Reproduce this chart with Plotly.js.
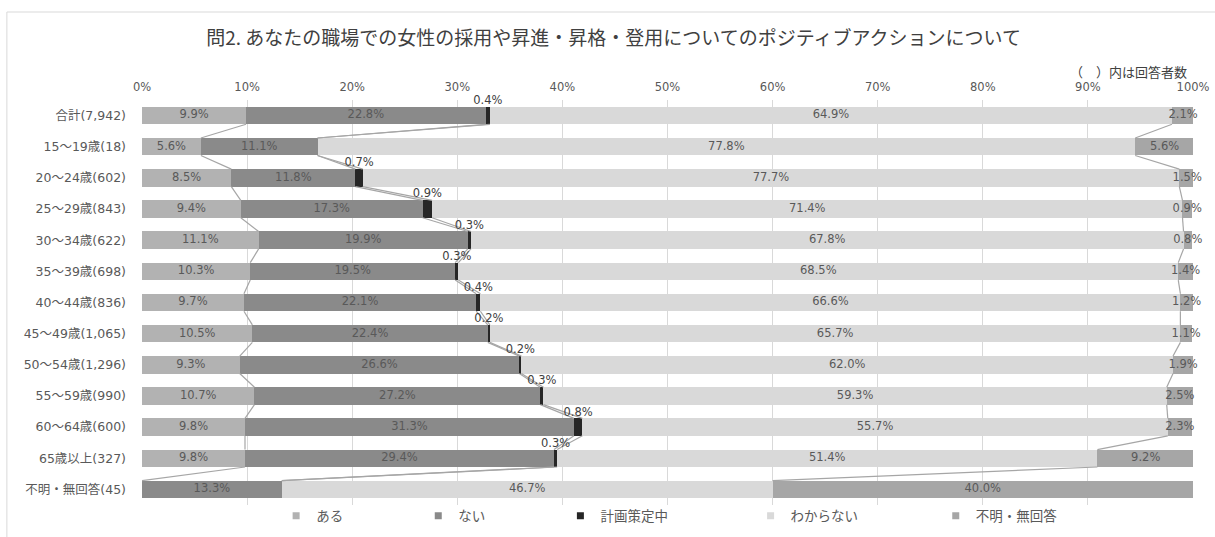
<!DOCTYPE html>
<html>
<head>
<meta charset="utf-8">
<script src="https://cdn.plot.ly/plotly-3.0.1.min.js"></script>
<style>html,body{margin:0;padding:0;background:#fff;}#chart{width:1215px;height:537px;}</style>
</head>
<body>
<div id="chart"></div>
<script>
const categories = ['合計(7,942)','15～19歳(18)','20～24歳(602)','25～29歳(843)','30～34歳(622)','35～39歳(698)','40～44歳(836)','45～49歳(1,065)','50～54歳(1,296)','55～59歳(990)','60～64歳(600)','65歳以上(327)','不明・無回答(45)'];
const seriesNames = ['ある','ない','計画策定中','わからない','不明・無回答'];
const aru      = [9.9, 5.6, 8.5, 9.4, 11.1, 10.3, 9.7, 10.5, 9.3, 10.7, 9.8, 9.8, 0];
const nai      = [22.8, 11.1, 11.8, 17.3, 19.9, 19.5, 22.1, 22.4, 26.6, 27.2, 31.3, 29.4, 13.3];
const keikaku  = [0.4, 0, 0.7, 0.9, 0.3, 0.3, 0.4, 0.2, 0.2, 0.3, 0.8, 0.3, 0];
const wakaranai= [64.9, 77.8, 77.7, 71.4, 67.8, 68.5, 66.6, 65.7, 62.0, 59.3, 55.7, 51.4, 46.7];
const fumei    = [2.1, 5.6, 1.5, 0.9, 0.8, 1.4, 1.2, 1.1, 1.9, 2.5, 2.3, 9.2, 40.0];
const xTickVals = [0,10,20,30,40,50,60,70,80,90,100];
const xTickText = ['0%','10%','20%','30%','40%','50%','60%','70%','80%','90%','100%'];

const series = [aru, nai, keikaku, wakaranai, fumei];
const colors = ['#b2b2b2','#8a8a8a','#262626','#d9d9d9','#a6a6a6'];
const W = 0.56;
const idx = categories.map((_, i) => i);
const txtColor = '#595959';
const latinCJK = 'DejaVu Sans, Noto Sans CJK JP';

const traces = [];
series.forEach((vals, s) => {
  traces.push({
    type: 'bar', orientation: 'h', name: seriesNames[s],
    x: vals, y: idx, width: W,
    marker: {color: colors[s], line: {width: 0}},
    showlegend: false, hoverinfo: 'skip'
  });
});
const cum = [];
let run = idx.map(() => 0);
series.forEach((vals) => {
  const starts = run.slice();
  run = run.map((r, i) => r + vals[i]);
  cum.push({start: starts, end: run.slice()});
});
for (let s = 0; s < 4; s++) {
  const lx = [], ly = [];
  for (let i = 0; i < categories.length - 1; i++) {
    lx.push(cum[s].end[i], cum[s].end[i + 1], null);
    ly.push(i + W / 2, i + 1 - W / 2, null);
  }
  traces.push({type: 'scatter', mode: 'lines', x: lx, y: ly,
    line: {color: '#a6a6a6', width: 1.2}, showlegend: false, hoverinfo: 'skip', cliponaxis: false});
}
series.forEach((vals, s) => {
  const tx = [], ty = [], tt = [];
  vals.forEach((v, i) => {
    if (v > 0) {
      tx.push(cum[s].start[i] + v / 2);
      ty.push(s === 2 ? i - W / 2 : i);
      tt.push(v.toFixed(1) + '%');
    }
  });
  traces.push({type: 'scatter', mode: 'text', x: tx, y: ty, text: tt,
    textposition: s === 2 ? 'top center' : 'middle center',
    textfont: {family: 'DejaVu Sans', size: 11.5, color: s === 2 ? '#404040' : txtColor},
    showlegend: false, hoverinfo: 'skip', cliponaxis: false});
});
const legendX = [303, 445, 587, 777, 962];
const layoutLegends = {};
seriesNames.forEach((n, s) => {
  const key = s === 0 ? 'legend' : 'legend' + (s + 1);
  traces.push({type: 'scatter', mode: 'markers', x: [null], y: [null], name: n,
    legend: key, marker: {symbol: 'square', size: 7, color: colors[s]}, hoverinfo: 'skip'});
  layoutLegends[key] = {
    orientation: 'h', x: (legendX[s] - 7 - 20 - 142) / 1050, xanchor: 'left',
    y: (505 - 516) / 405, yanchor: 'middle', bgcolor: 'rgba(0,0,0,0)',
    font: {family: 'Noto Sans CJK JP', size: 13.5, color: txtColor}, itemwidth: 30
  };
});

const layout = Object.assign({
  width: 1215, height: 537,
  margin: {l: 142, r: 22, t: 100, b: 32, autoexpand: false},
  paper_bgcolor: '#ffffff', plot_bgcolor: '#ffffff',
  barmode: 'stack', showlegend: true,
  title: {text: '問2. あなたの職場での女性の採用や昇進・昇格・登用についてのポジティブアクションについて',
    x: 0.505, xanchor: 'center', y: 1 - 38 / 537, yanchor: 'middle',
    font: {family: 'Noto Sans CJK JP', size: 19, color: '#404040'}},
  xaxis: {range: [0, 100], side: 'top', tickvals: xTickVals, ticktext: xTickText,
    showgrid: true, gridcolor: '#d9d9d9', gridwidth: 1, zeroline: false, showline: false,
    ticks: '', ticklabelstandoff: 6, automargin: false,
    tickfont: {family: 'DejaVu Sans', size: 11.5, color: txtColor}, fixedrange: true},
  yaxis: {range: [categories.length - 0.5, -0.5], tickvals: idx, ticktext: categories,
    showgrid: false, zeroline: false, showline: false, ticks: '', ticklabelstandoff: 15, automargin: false,
    tickfont: {family: latinCJK, size: 12.5, color: txtColor}, fixedrange: true},
  shapes: [{type: 'rect', xref: 'paper', yref: 'paper',
    x0: (7 - 142) / 1050, x1: (1230 - 142) / 1050,
    y0: (505 - 550) / 405, y1: (505 - 12) / 405,
    line: {color: '#d9d9d9', width: 1}, fillcolor: 'rgba(0,0,0,0)', layer: 'below'}],
  annotations: [{text: '（　）内は回答者数', xref: 'paper', yref: 'paper',
    x: (1188 - 142) / 1050, xanchor: 'right', y: (505 - 71) / 405, yanchor: 'middle',
    showarrow: false, font: {family: 'Noto Sans CJK JP', size: 13, color: '#404040'}}],
  hovermode: false
}, layoutLegends);

Plotly.newPlot('chart', traces, layout, {displayModeBar: false, staticPlot: true});
</script>
</body>
</html>
